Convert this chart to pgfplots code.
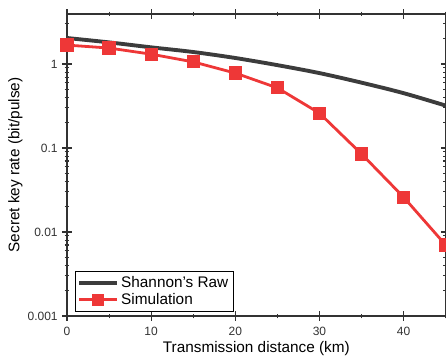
\documentclass[border=0pt]{standalone}
\usepackage{pgfplots}
\pgfplotsset{compat=1.18}
\usepackage{fontspec}
\setmainfont{Liberation Sans}
\definecolor{simred}{RGB}{238,55,55}
\definecolor{shgray}{RGB}{60,60,60}
\definecolor{axgray}{RGB}{50,50,50}
\begin{document}
\begin{tikzpicture}
\useasboundingbox (-50.25pt,-31.5pt) rectangle (284.25pt,237pt);
\begin{axis}[
  at={(0,0)}, anchor=south west,
  scale only axis,
  width=284pt, height=226.5pt,
  xmin=0, xmax=45,
  ymode=log, ymin=0.001, ymax=3.94,
  xtick={0,10,20,30,40},
  minor xtick={5,15,25,35,45},
  ytick={0.001,0.01,0.1,1},
  yticklabels={0.001,0.01,0.1,1},
  minor ytick={0.002,0.003,0.004,0.005,0.006,0.007,0.008,0.009,
               0.02,0.03,0.04,0.05,0.06,0.07,0.08,0.09,
               0.2,0.3,0.4,0.5,0.6,0.7,0.8,0.9,2,3},
  tick align=center,
  major tick length=7pt,
  minor tick length=3.5pt,
  axis line style={axgray, line width=1pt},
  every tick/.style={axgray, line width=0.8pt},
  tick label style={font=\fontsize{9}{10}\selectfont, text=axgray},
  xticklabel style={yshift=-1pt},
  label style={font=\fontsize{11.5}{13}\selectfont, text=black},
  xlabel={Transmission distance (km)},
  ylabel={Secret key rate (bit/pulse)},
  xlabel style={yshift=2pt},
  ylabel style={yshift=-3pt},
  /pgf/number format/assume math mode=true,
  legend style={at={(0.021,0.015)}, anchor=south west, draw=black, line width=0.6pt,
    font=\fontsize{11.5}{13}\selectfont, inner sep=1.5pt, row sep=-1pt},
  legend cell align=left,
  legend image code/.code={
    \draw[#1] (0pt,0pt) -- (28pt,0pt);
    \draw[#1, only marks, mark size=3.2pt] plot coordinates {(14pt,0pt)};
  },
]
\addplot[shgray, line width=2.9pt, smooth, mark=none] coordinates {
 (0,2.04) (5,1.81) (10,1.58) (15,1.39) (20,1.18) (25,0.97) (30,0.78) (35,0.60) (40,0.45) (45,0.32)
};
\addlegendentry{Shannon's Raw}
\addplot[simred, line width=2.1pt, mark=square*, mark size=3.9pt, mark options={solid}] coordinates {
 (0,1.68) (5,1.55) (10,1.31) (15,1.06) (20,0.78) (25,0.52) (30,0.26) (35,0.085) (40,0.026) (45,0.007)
};
\addlegendentry{Simulation}
\end{axis}
\end{tikzpicture}
\end{document}
